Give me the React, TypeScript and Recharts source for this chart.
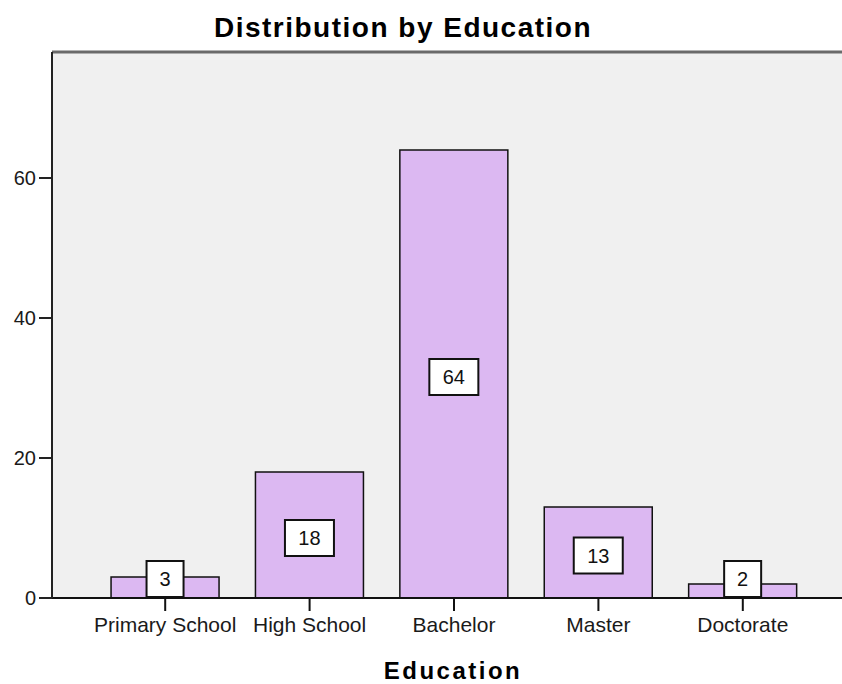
import { BarChart, Bar, XAxis, YAxis, CartesianGrid, ReferenceLine, LabelList } from 'recharts';

const CATEGORIES = ['Primary School', 'High School', 'Bachelor', 'Master', 'Doctorate'];
const COUNTS = [3, 18, 64, 13, 2];
const Y_TICKS = [0, 20, 40, 60];
const Y_MAX = 78;

const FONT = '"Liberation Sans", Arial, sans-serif';
const BAR_FILL = '#dcb8f2';
const PLOT_BG = '#f0f0f0';

const data = CATEGORIES.map((education, i) => ({ education, count: COUNTS[i] }));

// white count box sitting in the middle of each bar, pushed up when the bar is too short
function CountBox(props: any) {
  const x = Number(props.x);
  const y = Number(props.y);
  const width = Number(props.width);
  const height = Number(props.height);
  const value = props.value;
  const w = String(value).length * 12 + 25;
  const h = 36;
  const cx = x + width / 2;
  const zeroY = y + height;
  let top = y + height / 2 + 3 - h / 2;
  if (top + h > zeroY - 1) top = zeroY - 1 - h;
  return (
    <g>
      <rect x={cx - w / 2} y={top} width={w} height={h} fill="#ffffff" stroke="#111" strokeWidth={2} />
      <text x={cx} y={top + h / 2 + 7} textAnchor="middle" fontSize={20} fontFamily={FONT} fill="#111">
        {value}
      </text>
    </g>
  );
}

export default function App() {
  return (
    <div style={{ position: 'fixed', left: 0, top: 0, width: 842, height: 684, background: '#fff', fontFamily: FONT }}>
      <BarChart
        width={842}
        height={684}
        data={data}
        margin={{ top: 52, right: 0, bottom: 56, left: 0 }}
        barCategoryGap="12.5%"
      >
        <CartesianGrid horizontal={false} vertical={false} fill={PLOT_BG} />
        <XAxis
          dataKey="education"
          height={30}
          padding={{ left: 41, right: 27 }}
          axisLine={{ stroke: '#111', strokeWidth: 2 }}
          tickLine={{ stroke: '#111', strokeWidth: 2 }}
          tickSize={13}
          tickMargin={6}
          tick={{ fontSize: 21, fill: '#1a1a1a', fontFamily: FONT }}
          interval={0}
        />
        <YAxis
          width={52}
          domain={[0, Y_MAX]}
          ticks={Y_TICKS}
          axisLine={{ stroke: '#222', strokeWidth: 2 }}
          tickLine={{ stroke: '#222', strokeWidth: 2 }}
          tickSize={13}
          tickMargin={3}
          tick={{ fontSize: 20, fill: '#1a1a1a', fontFamily: FONT }}
          allowDataOverflow
        />
        <ReferenceLine y={Y_MAX} stroke="#6a6a6a" strokeWidth={3} />
        <Bar dataKey="count" fill={BAR_FILL} stroke="#111" strokeWidth={1.5} isAnimationActive={false}>
          <LabelList dataKey="count" content={CountBox} />
        </Bar>
      </BarChart>
      <svg width={842} height={684} style={{ position: 'absolute', left: 0, top: 0, pointerEvents: 'none' }}>
        <text x={403} y={37} textAnchor="middle" fontSize={28} fontWeight="bold" letterSpacing={1.5} fontFamily={FONT} fill="#000">
          Distribution by Education
        </text>
        <text x={453} y={679} textAnchor="middle" fontSize={24} fontWeight="bold" letterSpacing={2.5} fontFamily={FONT} fill="#000">
          Education
        </text>
      </svg>
    </div>
  );
}
